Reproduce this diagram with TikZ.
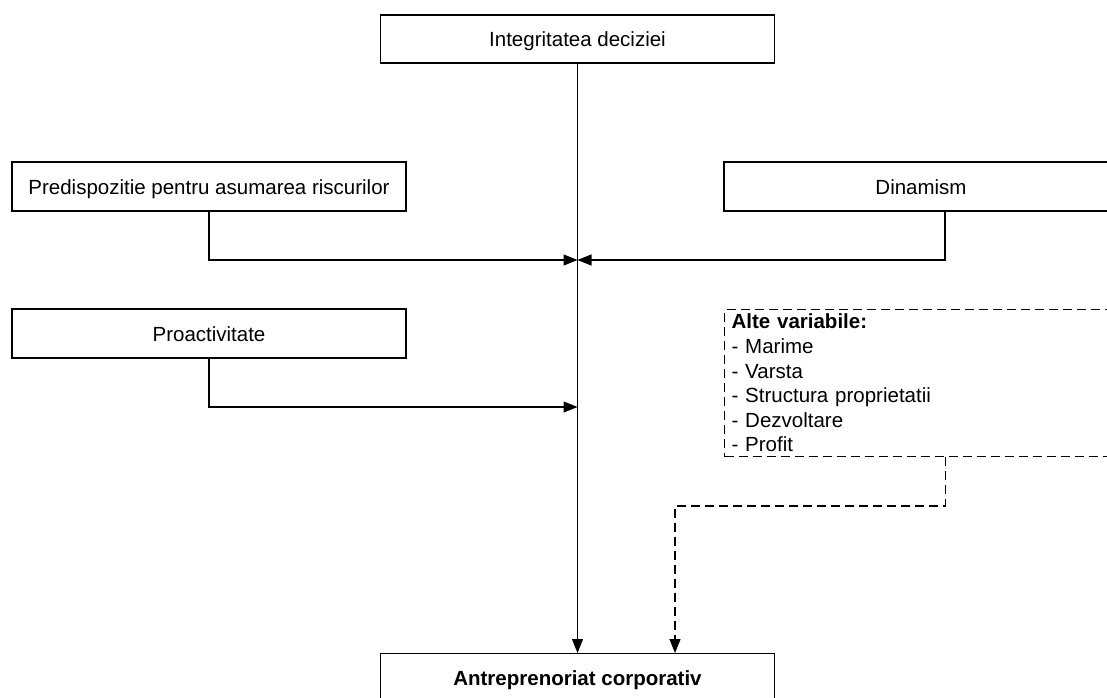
\documentclass[tikz,border=0pt]{standalone}
\usepackage{fontspec}
\setmainfont{Liberation Sans}
\usetikzlibrary{arrows.meta}
\begin{document}
\begin{tikzpicture}[x=1pt,y=-1pt,line cap=butt,line join=miter,>={Triangle[length=14pt,width=11pt]},line width=1.1pt,
 font=\fontsize{20.5}{24.6}\selectfont,
 box/.style={draw,minimum width=394pt,minimum height=48pt,inner sep=0pt,text height=15pt,text depth=0pt},
 dashline/.style={dash pattern=on 9pt off 5pt}]
 \useasboundingbox(0,0)rectangle(1107,697);
 \fill[white](0,0)rectangle(1107,697);
 \clip(0,0)rectangle(1107,697);
 \node[box](integritate)at(577.5,39){Integritatea deciziei};
 \node[box,minimum height=49pt](risc)at(209,186.5){Predispozitie pentru asumarea riscurilor};
 \node[box,minimum height=49pt](dinamism)at(921,186.5){Dinamism};
 \node[box,minimum height=49pt](proact)at(209,333.5){Proactivitate};
 \node[draw,dashline,anchor=north west,text width=380pt,align=left,inner xsep=7pt,inner ysep=2pt,minimum height=147pt](alte)at(724,309)
 {\textbf{Alte variabile:}\\- Marime\\- Varsta\\- Structura proprietatii\\- Dezvoltare\\- Profit};
 \node[box,anchor=north](antrep)at(577.5,653){\textbf{Antreprenoriat corporativ}};
 \coordinate(m1)at(577.5,260);
 \coordinate(m2)at(577.5,407);
 \coordinate(m3)at(675,506);
 \draw[->](integritate.south)--(antrep.north);
 \draw[->](risc.south)|-(m1);
 \draw[->]([xshift=24pt]dinamism.south)|-(m1);
 \draw[->](proact.south)|-(m2);
 \draw[dashline,->]([xshift=24pt]alte.south)|-(m3)--(m3|-antrep.north);
\end{tikzpicture}
\end{document}
